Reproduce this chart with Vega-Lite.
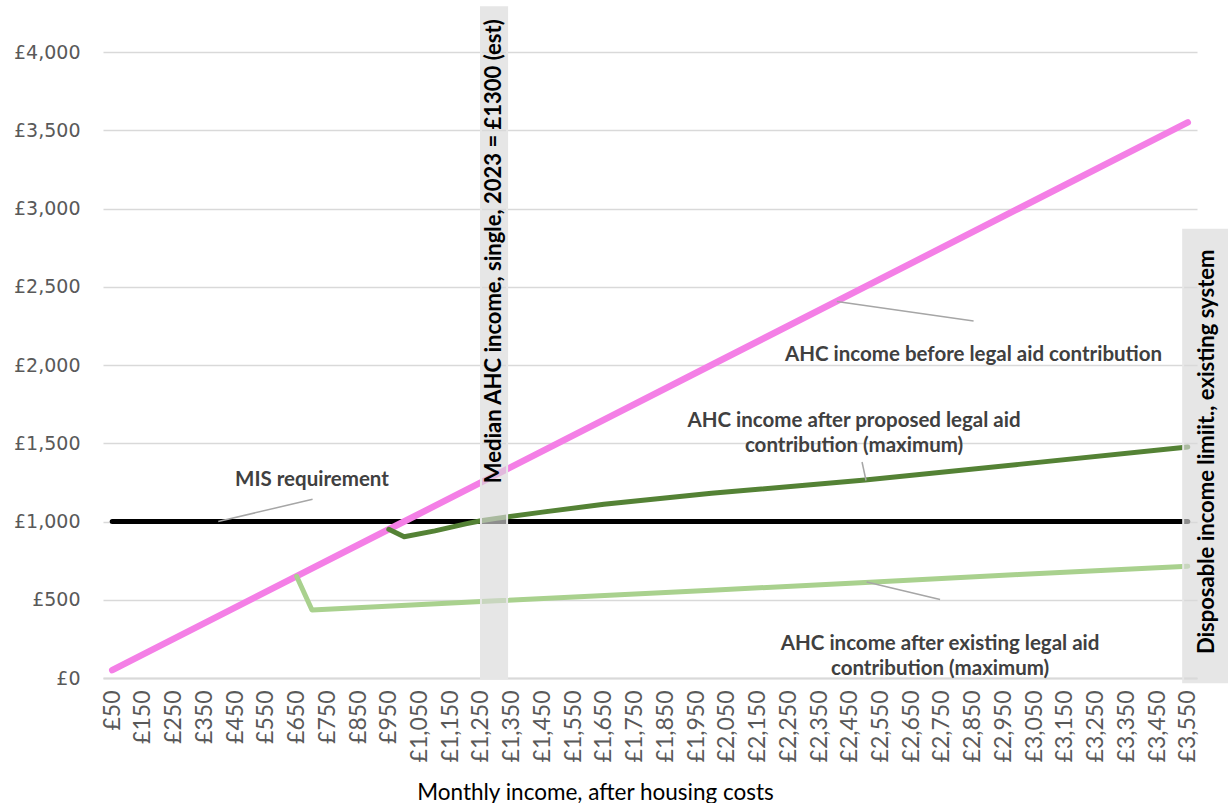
{
  "$schema": "https://vega.github.io/schema/vega-lite/v6.json",
  "width": 1094,
  "height": 626,
  "autosize": {"type": "none"},
  "padding": {"left": 103, "top": 52, "right": 31, "bottom": 125},
  "background": "white",
  "config": {
    "view": {"stroke": null},
    "font": "Lato",
    "axisX": {"labelOverlap": false, "labelBound": false, "labelFlush": false}
  },
  "datasets": {
    "incomes": [
      {"series": "MIS requirement", "income": 50, "value": 1000},
      {"series": "MIS requirement", "income": 3550, "value": 1000},
      {"series": "Before contribution", "income": 50, "value": 50},
      {"series": "Before contribution", "income": 1000, "value": 1000},
      {"series": "Before contribution", "income": 2000, "value": 2000},
      {"series": "Before contribution", "income": 3000, "value": 3000},
      {"series": "Before contribution", "income": 3550, "value": 3550},
      {"series": "After existing contribution", "income": 650, "value": 650},
      {"series": "After existing contribution", "income": 700, "value": 434},
      {"series": "After existing contribution", "income": 1300, "value": 493},
      {"series": "After existing contribution", "income": 2000, "value": 561},
      {"series": "After existing contribution", "income": 2500, "value": 611},
      {"series": "After existing contribution", "income": 3000, "value": 661},
      {"series": "After existing contribution", "income": 3550, "value": 714},
      {"series": "After proposed contribution", "income": 950, "value": 950},
      {"series": "After proposed contribution", "income": 1000, "value": 903},
      {"series": "After proposed contribution", "income": 1100, "value": 940},
      {"series": "After proposed contribution", "income": 1200, "value": 985},
      {"series": "After proposed contribution", "income": 1250, "value": 1005},
      {"series": "After proposed contribution", "income": 1300, "value": 1020},
      {"series": "After proposed contribution", "income": 1450, "value": 1060},
      {"series": "After proposed contribution", "income": 1650, "value": 1110},
      {"series": "After proposed contribution", "income": 2000, "value": 1180},
      {"series": "After proposed contribution", "income": 2500, "value": 1265},
      {"series": "After proposed contribution", "income": 3000, "value": 1365},
      {"series": "After proposed contribution", "income": 3550, "value": 1476}
    ],
    "bands": [
      {"band": "median", "income": 1250, "income2": 1335, "value": 0, "value2": 4286},
      {"band": "limit", "income": 3535, "income2": 3760, "value": -27, "value2": 2865}
    ],
    "bandLabels": [
      {"income": 1292, "value": 2727, "label": "Median AHC income, single,  2023 = £1300 (est)"},
      {"income": 3613, "value": 1445, "label": "Disposable income limiit., existing system"}
    ],
    "leaders": [
      {"income": 395, "value": 1000, "income2": 702, "value2": 1142},
      {"income": 2408, "value": 2405, "income2": 2853, "value2": 2281},
      {"income": 2490, "value": 1380, "income2": 2503, "value2": 1262},
      {"income": 2505, "value": 613, "income2": 2744, "value2": 501}
    ],
    "notes": [
      {"income": 700, "value": 1263, "label": "MIS requirement"},
      {"income": 2853, "value": 2062, "label": "AHC income before legal aid contribution"},
      {"income": 2464, "value": 1640, "label": "AHC income after proposed legal aid\ncontribution (maximum)"},
      {"income": 2744, "value": 215, "label": "AHC income after existing legal aid\ncontribution (maximum)"}
    ]
  },
  "encoding": {
    "x": {
      "field": "income", "type": "quantitative",
      "scale": {"domain": [20, 3580], "nice": false, "zero": false},
      "axis": {
        "values": [50,150,250,350,450,550,650,750,850,950,1050,1150,1250,1350,1450,1550,1650,1750,1850,1950,2050,2150,2250,2350,2450,2550,2650,2750,2850,2950,3050,3150,3250,3350,3450,3550],
        "labelExpr": "'£' + format(datum.value, ',')",
        "labelAngle": -90,
        "labelFont": "Lato",
        "labelFontSize": 23,
        "labelColor": "#595959",
        "labelPadding": 12,
        "labelOverlap": false,
        "labelBound": false,
        "labelFlush": false,
        "ticks": false,
        "grid": false,
        "domainColor": "#d9d9d9",
        "domainWidth": 2,
        "title": "Monthly income, after housing costs",
        "titleFont": "Lato",
        "titleFontSize": 22.5,
        "titleFontWeight": "normal",
        "titleColor": "#000000",
        "titleX": 492,
        "titleY": 114,
        "titleBaseline": "middle",
        "titleAlign": "center"
      }
    },
    "y": {
      "field": "value", "type": "quantitative",
      "scale": {"domain": [0, 4000], "nice": false},
      "axis": {
        "values": [0,500,1000,1500,2000,2500,3000,3500,4000],
        "labelExpr": "'£' + format(datum.value, ',')",
        "labelFont": "DejaVu Sans",
        "labelFontSize": 19,
        "labelColor": "#595959",
        "labelPadding": 23,
        "ticks": false,
        "domain": false,
        "grid": true,
        "gridColor": "#d9d9d9",
        "gridWidth": 1.5,
        "title": null
      }
    }
  },
  "layer": [
    {
      "data": {"name": "incomes"},
      "transform": [{"filter": "datum.series === 'MIS requirement'"}],
      "mark": {"type": "line", "color": "#000000", "strokeWidth": 5, "strokeCap": "round"}
    },
    {
      "data": {"name": "incomes"},
      "transform": [{"filter": "datum.series === 'Before contribution'"}],
      "mark": {"type": "line", "color": "#f47fe6", "strokeWidth": 6.5, "strokeCap": "round"}
    },
    {
      "data": {"name": "incomes"},
      "transform": [{"filter": "datum.series === 'After existing contribution'"}],
      "mark": {"type": "line", "color": "#a9d18e", "strokeWidth": 5, "strokeCap": "round", "strokeJoin": "round"}
    },
    {
      "data": {"name": "incomes"},
      "transform": [{"filter": "datum.series === 'After proposed contribution'"}],
      "mark": {"type": "line", "color": "#548235", "strokeWidth": 5, "strokeCap": "round", "strokeJoin": "round"}
    },
    {
      "data": {"name": "leaders"},
      "mark": {"type": "rule", "color": "#a6a6a6", "strokeWidth": 1.5},
      "encoding": {
        "x2": {"field": "income2"},
        "y2": {"field": "value2"}
      }
    },
    {
      "data": {"name": "bands"},
      "mark": {"type": "rect", "fill": "#d9d9d9", "fillOpacity": 0.65, "stroke": "#e6e6e6", "strokeWidth": 2, "clip": false},
      "encoding": {
        "x2": {"field": "income2"},
        "y2": {"field": "value2"}
      }
    },
    {
      "data": {"name": "bandLabels"},
      "mark": {"type": "text", "angle": 270, "font": "Lato", "fontSize": 22, "fontWeight": "bold", "color": "#000000", "align": "center", "baseline": "middle"},
      "encoding": {
        "text": {"field": "label"}
      }
    },
    {
      "data": {"name": "notes"},
      "mark": {"type": "text", "font": "Lato", "fontSize": 20.5, "fontWeight": "bold", "color": "#404040", "align": "center", "baseline": "middle", "lineBreak": "\n", "lineHeight": 25},
      "encoding": {
        "text": {"field": "label"}
      }
    }
  ]
}
